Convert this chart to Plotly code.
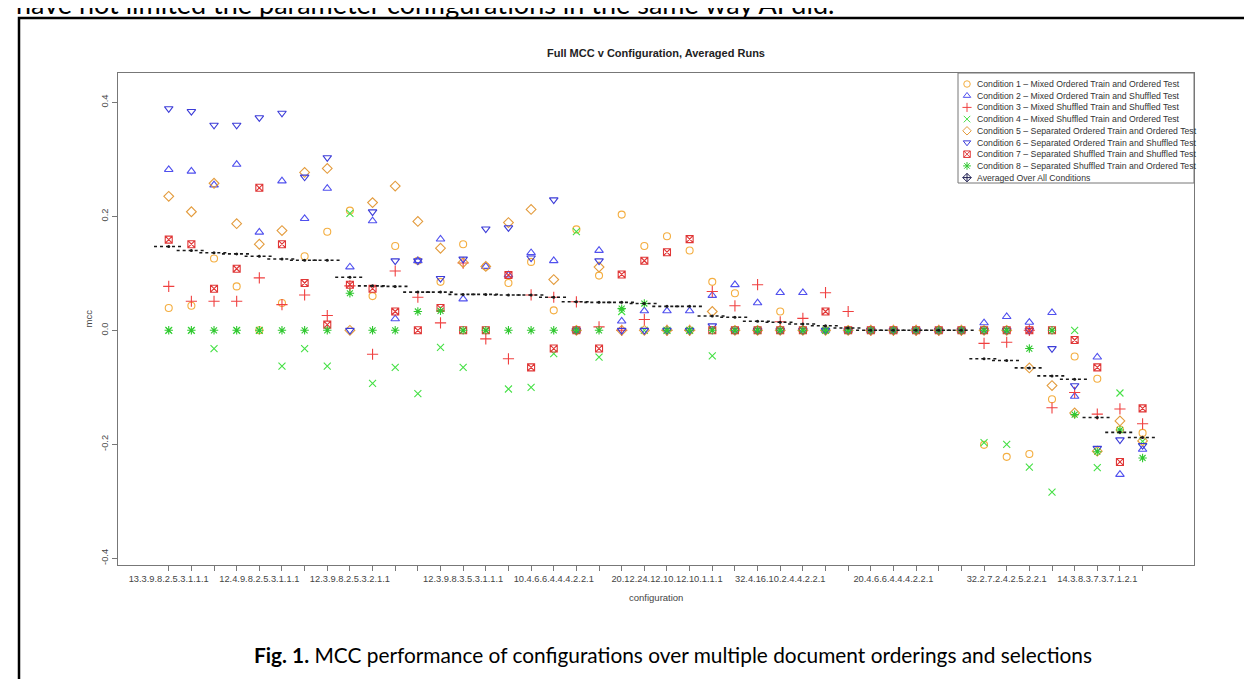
import plotly.graph_objects as go

# ---------------- data ----------------
n_cols = 44
cols = list(range(n_cols))
tick_labels = {0: "13.3.9.8.2.5.3.1.1.1", 4: "12.4.9.8.2.5.3.1.1.1", 8: "12.3.9.8.2.5.3.2.1.1",
               13: "12.3.9.8.3.5.3.1.1.1", 17: "10.4.6.6.4.4.4.2.2.1", 22: "20.12.24.12.10.12.10.1.1.1",
               27: "32.4.16.10.2.4.4.2.2.1", 32: "20.4.6.6.4.4.4.2.2.1", 37: "32.2.7.2.4.2.5.2.2.1",
               41: "14.3.8.3.7.3.7.1.2.1"}

cond1 = [0.039, 0.043, 0.126, 0.077, 0, 0.048, 0.130, 0.173, 0.210, 0.060,
         0.148, 0.122, 0.085, 0.151, 0.112, 0.083, 0.120, 0.035, 0.177, 0.096,
         0.203, 0.148, 0.165, 0.140, 0.085, 0.065, 0, 0.033, 0, 0,
         0, 0, 0, 0, 0, 0,
         -0.201, -0.222, -0.217, -0.121, -0.046, -0.085, -0.174, -0.180]
cond2 = [0.282, 0.279, 0.255, 0.291, 0.172, 0.262, 0.196, 0.249, 0.111, 0.192,
         0.020, 0.122, 0.160, 0.055, 0.112, 0.097, 0.136, 0.122, 0, 0.140,
         0.016, 0.034, 0.034, 0.034, 0.061, 0.080, 0.048, 0.066, 0.066, 0,
         0, 0, 0, 0, 0, 0,
         0.013, 0.024, 0.014, 0.031, -0.116, -0.047, -0.253, -0.209]
cond3 = [0.077, 0.051, 0.051, 0.051, 0.092, 0.045, 0.062, 0.026, 0.078, -0.042,
         0.104, 0.058, 0.013, 0.118, -0.015, -0.050, 0.062, 0.058, 0.050, 0.006,
         0, 0.019, 0, 0, 0.068, 0.043, 0.080, 0.015, 0.021, 0.066,
         0.033, 0, 0, 0, 0, 0,
         -0.023, -0.021, 0, -0.136, -0.109, -0.147, -0.138, -0.164]
cond4 = [0, 0, -0.032, 0, 0, -0.063, -0.032, -0.063, 0.205, -0.093,
         -0.065, -0.111, -0.030, -0.065, 0, -0.103, -0.100, -0.041, 0.173, -0.047,
         0.033, 0, 0, 0, -0.045, 0, 0, 0, 0, 0,
         0, 0, 0, 0, 0, 0,
         -0.197, -0.200, -0.240, -0.284, 0, -0.241, -0.110, -0.195]
cond5 = [0.235, 0.208, 0.258, 0.187, 0.151, 0.175, 0.277, 0.284, 0, 0.224,
         0.253, 0.191, 0.144, 0.119, 0.112, 0.189, 0.212, 0.089, 0, 0.111,
         0, 0, 0, 0, 0.033, 0, 0, 0, 0, 0,
         0, 0, 0, 0, 0, 0,
         0, 0, -0.066, -0.097, -0.145, -0.212, -0.159, -0.194]
cond6 = [0.389, 0.384, 0.360, 0.360, 0.373, 0.381, 0.269, 0.303, 0, 0.208,
         0.122, 0.122, 0.091, 0.125, 0.178, 0.180, 0.127, 0.229, 0, 0.122,
         0, 0, 0, 0, 0.008, 0, 0, 0, 0, 0,
         0, 0, 0, 0, 0, 0,
         0, 0, 0, -0.032, -0.097, -0.207, -0.192, -0.202]
cond7 = [0.159, 0.151, 0.073, 0.108, 0.250, 0.151, 0.083, 0.010, 0.080, 0.073,
         0.033, 0, 0.039, 0, 0, 0.097, -0.065, -0.032, 0, -0.032,
         0.098, 0.122, 0.137, 0.160, 0, 0, 0, 0, 0, 0.033,
         0, 0, 0, 0, 0, 0,
         0, 0, 0, 0, -0.017, -0.065, -0.231, -0.137]
cond8 = [0, 0, 0, 0, 0, 0, 0, 0, 0.065, 0,
         0, 0.033, 0.034, 0, 0, 0, 0, 0, 0, 0,
         0.038, 0.047, 0, 0, 0, 0, 0, 0, 0, 0,
         0, 0, 0, 0, 0, 0,
         0, 0, -0.032, 0, -0.148, -0.213, -0.175, -0.224]
avg = [0.147, 0.140, 0.136, 0.134, 0.130, 0.125, 0.123, 0.123, 0.093, 0.078,
       0.077, 0.067, 0.067, 0.063, 0.063, 0.062, 0.062, 0.058, 0.050, 0.049,
       0.049, 0.047, 0.042, 0.042, 0.025, 0.023, 0.016, 0.014, 0.011, 0.008,
       0.004, 0, 0, 0, 0, 0,
       -0.050, -0.053, -0.066, -0.080, -0.086, -0.153, -0.179, -0.188]

names = ["Condition 1 \u2013 Mixed Ordered Train and Ordered Test",
         "Condition 2 \u2013 Mixed Ordered Train and Shuffled Test",
         "Condition 3 \u2013 Mixed Shuffled Train and Shuffled Test",
         "Condition 4 \u2013 Mixed Shuffled Train and Ordered Test",
         "Condition 5 \u2013 Separated Ordered Train and Ordered Test",
         "Condition 6 \u2013 Separated Ordered Train and Shuffled Test",
         "Condition 7 \u2013 Separated Shuffled Train and Shuffled Test",
         "Condition 8 \u2013 Separated Shuffled Train and Ordered Test",
         "Averaged Over All Conditions"]
series = [cond1, cond2, cond3, cond4, cond5, cond6, cond7, cond8]
symbols = ["circle-open", "triangle-up-open", "cross-thin-open", "x-thin-open",
           "diamond-open", "triangle-down-open", "square-x-open", "asterisk-open",
           "diamond-cross-open"]
colors = ["#F4AE40", "#5050EE", "#F04040", "#45E045",
          "#E39B3C", "#3C3CD8", "#E03636", "#30C830", "#1E1E50"]
sizes = [7, 7.5, 8, 7, 7.5, 7.5, 7, 7, 7]

# ---------------- layout geometry (pixels) ----------------
W, H = 1252, 679
L, R, T, B = 110, 1186, 65, 557
def px(x):
    return (x - L) / (R - L)
def py(y):
    return (B - y) / (B - T)

fig = go.Figure()
for s, nm, sym, c, sz in zip(series, names, symbols, colors, sizes):
    fig.add_trace(go.Scatter(x=cols, y=s, mode="markers", name=nm, showlegend=False,
                             marker=dict(symbol=sym, size=sz, color=c, line=dict(width=1.1, color=c)),
                             cliponaxis=False))

# averaged values as short dotted horizontal dashes
ax, ay = [], []
for i, a in zip(cols, avg):
    ax += [i - 0.65, i + 0.65, None]
    ay += [a, a, None]
fig.add_trace(go.Scatter(x=ax, y=ay, mode="lines", showlegend=False,
                         line=dict(color="#1a1a1a", width=1.6, dash="dot")))
fig.add_trace(go.Scatter(x=cols, y=avg, mode="markers", showlegend=False,
                         marker=dict(symbol="circle", size=3, color="#1a1a1a")))

# ---------------- manual R-style legend ----------------
leg_left, leg_top, leg_bot = 950, 65, 175
row0, dy = 76, 11.7
fig.add_shape(type="rect", xref="paper", yref="paper", x0=px(leg_left), x1=px(R),
              y0=py(leg_bot), y1=py(leg_top), line=dict(color="#777777", width=1),
              fillcolor="white", layer="below")
for k, (nm, sym, c) in enumerate(zip(names, symbols, colors)):
    yy = py(row0 + dy * k)
    fig.add_trace(go.Scatter(x=[px(959)], y=[yy], xaxis="x2", yaxis="y2", mode="markers",
                             showlegend=False,
                             marker=dict(symbol=sym, size=6.5, color=c, line=dict(width=1, color=c))))
    fig.add_annotation(x=px(967), y=yy, xref="paper", yref="paper", text=nm, showarrow=False,
                       xanchor="left", yanchor="middle",
                       font=dict(family="Liberation Sans", size=8.7, color="#333333"))

# ---------------- texts ----------------
fig.add_annotation(x=px(648), y=py(37), xref="paper", yref="paper",
                   text="<b>Full MCC v Configuration, Averaged Runs</b>", showarrow=False,
                   font=dict(family="Liberation Sans", size=11, color="#222222"))
fig.add_annotation(x=px(648), y=py(597), xref="paper", yref="paper", text="configuration",
                   showarrow=False, font=dict(family="Liberation Sans", size=9.5, color="#444444"))
fig.add_annotation(x=px(72), y=py(311), xref="paper", yref="paper", text="mcc", textangle=-90,
                   showarrow=False, font=dict(family="Liberation Sans", size=9.5, color="#444444"))
fig.add_annotation(x=px(665), y=py(661), xref="paper", yref="paper",
                   text="<b>Fig. 1.</b> MCC performance of configurations over multiple document orderings and selections",
                   showarrow=False, font=dict(family="Lato", size=20.85, color="#000000"))
fig.add_annotation(x=px(6), y=py(-4.6), xref="paper", yref="paper", xanchor="left", yanchor="middle",
                   text="have not limited the parameter configurations in the same way AI did.",
                   showarrow=False, font=dict(family="Lato", size=27, color="#000000"))

# outer page border
fig.add_shape(type="rect", xref="paper", yref="paper", x0=px(11), x1=px(1242),
              y0=py(720), y1=py(10), line=dict(color="black", width=2.5), layer="below")

fig.update_layout(
    width=W, height=H, margin=dict(l=L, r=W - R, t=T, b=H - B),
    paper_bgcolor="white", plot_bgcolor="rgba(0,0,0,0)",
    xaxis=dict(range=[-2.24, 45.27], tickvals=cols,
               ticktext=[tick_labels.get(i, "") for i in cols],
               showline=True, mirror=True, linecolor="#777777", linewidth=1.3,
               ticks="outside", ticklen=5, tickcolor="#777777", tickwidth=1,
               showgrid=False, zeroline=False,
               tickfont=dict(family="Liberation Sans", size=9.3, color="#444444")),
    yaxis=dict(range=[-(B - 322.3) / 570, (322.3 - T) / 570],
               tickvals=[-0.4, -0.2, 0, 0.2, 0.4], ticktext=["-0.4", "-0.2", "0.0", "0.2", "0.4"],
               tickangle=-90, showline=True, mirror=True, linecolor="#777777", linewidth=1.3,
               ticks="outside", ticklen=5, tickcolor="#777777", tickwidth=1,
               showgrid=False, zeroline=False,
               tickfont=dict(family="Liberation Sans", size=9.3, color="#444444")),
    xaxis2=dict(overlaying="x", range=[0, 1], visible=False, fixedrange=True),
    yaxis2=dict(overlaying="y", range=[0, 1], visible=False, fixedrange=True),
    showlegend=False,
)

fig.write_html("out.html")
